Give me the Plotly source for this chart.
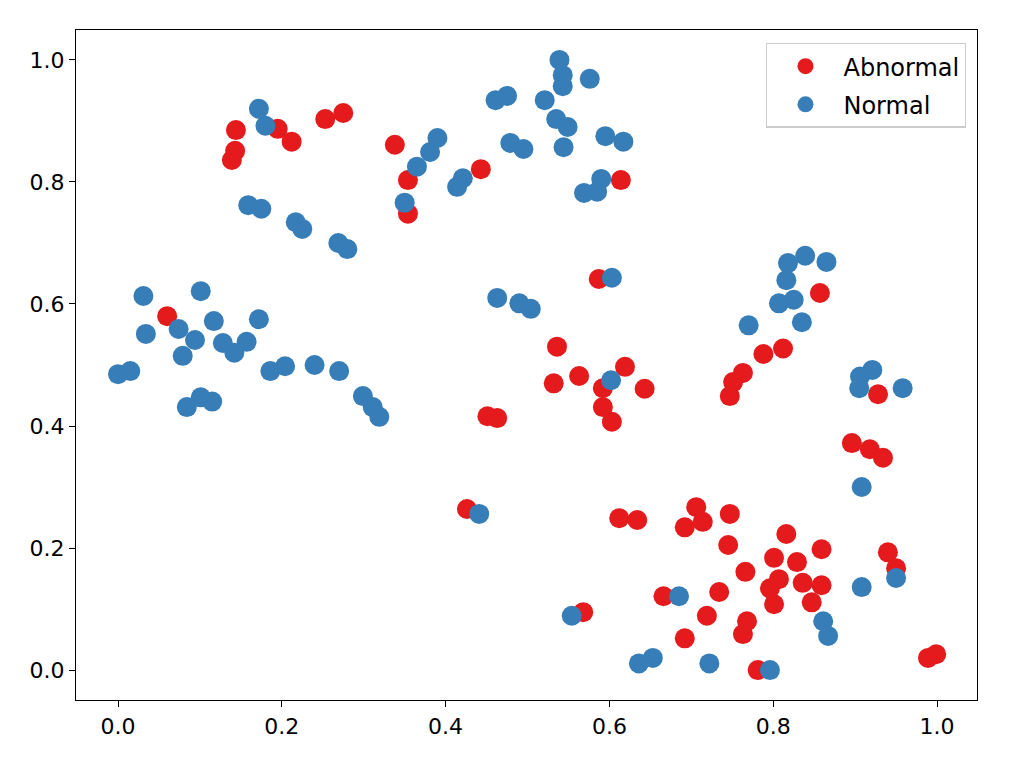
import plotly.graph_objects as go

abnormal_x = [0.060, 0.144, 0.143, 0.139, 0.195, 0.212, 0.253, 0.275, 0.338, 0.354,
              0.354, 0.443, 0.614, 0.587, 0.536, 0.532, 0.563, 0.619, 0.592, 0.643,
              0.592, 0.603, 0.451, 0.463, 0.426, 0.612, 0.634, 0.568, 0.666, 0.692,
              0.692, 0.706, 0.714, 0.719, 0.734, 0.747, 0.745, 0.766, 0.763, 0.768,
              0.781, 0.801, 0.816, 0.801, 0.796, 0.807, 0.829, 0.836, 0.847, 0.859,
              0.859, 0.857, 0.788, 0.812, 0.763, 0.751, 0.747, 0.928, 0.896, 0.918,
              0.934, 0.940, 0.950, 0.989, 0.999]
abnormal_y = [0.580, 0.885, 0.851, 0.836, 0.887, 0.866, 0.903, 0.913, 0.861, 0.803,
              0.748, 0.821, 0.803, 0.641, 0.530, 0.470, 0.482, 0.497, 0.462, 0.461,
              0.431, 0.407, 0.416, 0.413, 0.264, 0.249, 0.246, 0.095, 0.121, 0.052,
              0.234, 0.267, 0.243, 0.089, 0.128, 0.256, 0.205, 0.161, 0.059, 0.080,
              0.000, 0.184, 0.223, 0.108, 0.134, 0.149, 0.177, 0.143, 0.111, 0.198,
              0.139, 0.618, 0.518, 0.527, 0.487, 0.472, 0.449, 0.452, 0.372, 0.362,
              0.348, 0.193, 0.167, 0.020, 0.026]

normal_x = [0.172, 0.180, 0.159, 0.175, 0.217, 0.225, 0.269, 0.280, 0.390, 0.381,
            0.365, 0.350, 0.414, 0.421, 0.461, 0.475, 0.479, 0.495, 0.521, 0.539,
            0.543, 0.543, 0.576, 0.535, 0.549, 0.544, 0.595, 0.617, 0.590, 0.585,
            0.569, 0.603, 0.463, 0.490, 0.504, 0.602, 0.441, 0.554, 0.636, 0.653,
            0.685, 0.722, 0.796, 0.861, 0.867, 0.908, 0.950, 0.908, 0.818, 0.839,
            0.865, 0.816, 0.807, 0.825, 0.835, 0.770, 0.906, 0.921, 0.905, 0.958,
            0.031, 0.101, 0.034, 0.074, 0.094, 0.117, 0.172, 0.128, 0.142, 0.157,
            0.079, 0.000, 0.015, 0.186, 0.204, 0.240, 0.270, 0.084, 0.101, 0.115,
            0.299, 0.311, 0.319]
normal_y = [0.920, 0.892, 0.762, 0.756, 0.734, 0.723, 0.700, 0.690, 0.872, 0.849,
            0.825, 0.766, 0.792, 0.806, 0.934, 0.941, 0.864, 0.854, 0.934, 1.000,
            0.975, 0.957, 0.969, 0.903, 0.890, 0.857, 0.875, 0.866, 0.805, 0.784,
            0.782, 0.643, 0.610, 0.601, 0.592, 0.475, 0.256, 0.089, 0.011, 0.020,
            0.121, 0.011, 0.000, 0.080, 0.056, 0.136, 0.151, 0.300, 0.667, 0.679,
            0.669, 0.639, 0.601, 0.607, 0.570, 0.565, 0.481, 0.492, 0.462, 0.462,
            0.613, 0.621, 0.551, 0.559, 0.541, 0.572, 0.575, 0.536, 0.520, 0.538,
            0.515, 0.485, 0.490, 0.490, 0.498, 0.500, 0.490, 0.431, 0.447, 0.440,
            0.449, 0.431, 0.415]

tick_vals = [0.0, 0.2, 0.4, 0.6, 0.8, 1.0]
tick_text = ["0.0", "0.2", "0.4", "0.6", "0.8", "1.0"]

fig = go.Figure()
fig.add_trace(go.Scatter(x=abnormal_x, y=abnormal_y, mode="markers", name="Abnormal",
                         legendgroup="a",
                         marker=dict(color="#e41a1c", size=20, line=dict(width=0))))
fig.add_trace(go.Scatter(x=normal_x, y=normal_y, mode="markers", name="Normal",
                         legendgroup="b",
                         marker=dict(color="#377eb8", size=20, line=dict(width=0))))

axis_common = dict(showgrid=False, zeroline=False, showline=True, linecolor="black",
                   linewidth=1.3, mirror=True, ticks="outside", ticklen=6, tickwidth=1.3,
                   tickcolor="black", tickvals=tick_vals, ticktext=tick_text,
                   tickfont=dict(family="DejaVu Sans", size=22, color="black"))

fig.update_layout(
    width=1026, height=758,
    margin=dict(l=68, r=57, t=22, b=66),
    paper_bgcolor="white", plot_bgcolor="white",
    xaxis=dict(range=[-0.0513, 1.0488], **axis_common),
    yaxis=dict(range=[-0.049, 1.049], **axis_common),
    legend=dict(x=0.988, y=0.981, xanchor="right", yanchor="top",
                bgcolor="rgba(255,255,255,0.8)", bordercolor="#cccccc", borderwidth=1.3,
                font=dict(family="DejaVu Sans", size=24, color="black"),
                itemsizing="trace", itemwidth=66, tracegroupgap=4,
                entrywidth=147, entrywidthmode="pixels"),
    showlegend=True,
)

fig.write_html("out.html")
